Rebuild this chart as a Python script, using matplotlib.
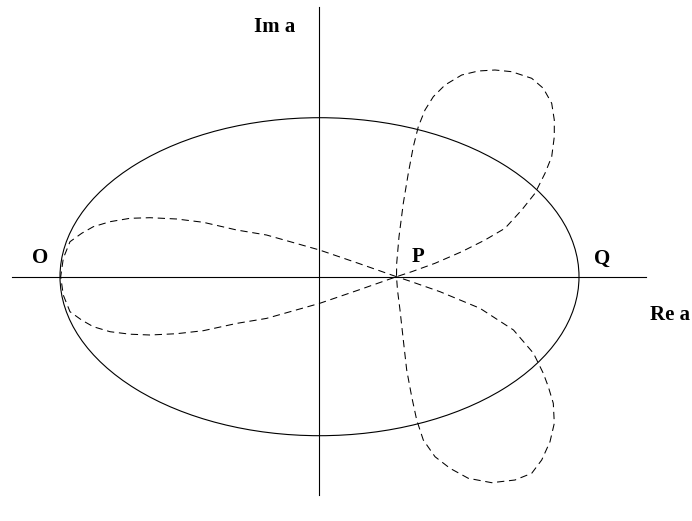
import matplotlib.pyplot as plt
from matplotlib.patches import Ellipse

plt.rcParams['font.family'] = ['Liberation Serif', 'DejaVu Serif']

# dashed curve, in picture units measured from the axes crossing (y upwards)
left_top_x = [77, 40, 0, -53, -82.8, -116.2, -142.8, -169.5, -189.5, -209.5, -226.2,
              -237.8, -249.5, -256.2, -258.8]
left_top_y = [0, 13, 26.7, 41.7, 46.7, 54.4, 57.7, 59, 58.4, 55, 50,
              43.4, 35, 18.4, 0]
left_bot_x = [-256.2, -249.5, -237.8, -226.2, -209.5, -189.5, -169.5, -142.8, -116.2,
              -82.8, -53, 0, 40, 77]
left_bot_y = [-18.4, -35, -43.4, -50, -55, -57.5, -58.3, -57, -54, -46.7, -41.7,
              -26.7, -13, 0]

upper_x = [92.2, 115.5, 142.2, 165.5, 185.5, 202.2, 215.5, 225.5, 232.2, 234.8, 234.8,
           232.2, 223.8, 212.2, 192.2, 175.5, 158.8, 142.2, 125.5, 113.8, 105.5, 98.8,
           93.8, 88.8, 83.8, 79.5, 77.2, 77]
upper_y = [5, 13.4, 25, 36.7, 48.4, 66.7, 83.4, 103.4, 120, 140, 156.7,
           173.4, 188.4, 198.4, 205, 206.7, 205.7, 201.7, 191.7, 180, 166.7, 150,
           130, 103.4, 73.4, 40, 13.4, 0]
lower_x = [78, 80.5, 84, 87.2, 92.2, 97.2, 103.8, 115.5, 130.5, 148.8, 172.2, 195.5,
           212.2, 222.2, 230.5, 234.8, 233.8, 228.8, 223.8, 214, 194, 160.5, 120.5, 92, 77]
lower_y = [-13.4, -33.3, -65, -93.3, -120, -143.3, -163.3, -180, -191.6, -201.6, -206,
           -203.3, -196.6, -183.3, -165, -146.6, -126.6, -110, -96.6, -76.6, -53.3,
           -31.6, -15, -5, 0]

# ellipse (solid)
ell_w, ell_h = 519, 318

labels = ['O', 'P', 'Q']
label_x = [-279, 99, 282.5]
label_y = [14, 15, 13]

fig = plt.figure(figsize=(6.92, 5.21), dpi=100)
ax = fig.add_axes([0, 0, 1, 1])
ax.set_xlim(-319.5, 372.5)
ax.set_ylim(-244.3, 276.7)
ax.axis('off')

# axes lines
ax.plot([-307.5, 326.5], [0, 0], color='black', lw=0.8)
ax.plot([0, 0], [-218.3, 269.7], color='black', lw=0.8)

ax.add_patch(Ellipse((0, 0), ell_w, ell_h, fill=False, ec='black', lw=0.8))

xs = left_top_x + left_bot_x + upper_x + lower_x
ys = left_top_y + left_bot_y + upper_y + lower_y
ax.plot(xs, ys, color='black', lw=0.75, dashes=(7, 4.5))

for t, x, y in zip(labels, label_x, label_y):
    ax.text(x, y, t, ha='center', va='baseline', fontsize=15, fontweight='bold')

ax.text(-44.5, 244.7, 'Im a', ha='center', va='baseline', fontsize=15, fontweight='bold')
ax.text(350.5, -43.3, 'Re a', ha='center', va='baseline', fontsize=15, fontweight='bold')

fig.savefig('out.png', dpi=100)
